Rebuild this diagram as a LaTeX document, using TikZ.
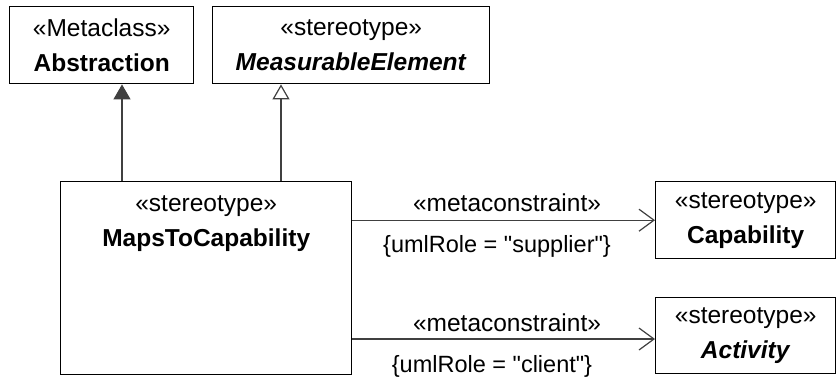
\documentclass[tikz,border=0pt]{standalone}
\usepackage{fontspec}
\setmainfont{Liberation Sans}
\usetikzlibrary{arrows.meta,positioning}

\tikzset{
  umlbox/.style={draw=black, line width=1.4pt, fill=white, inner sep=0pt, align=center,
    anchor=north west, font=\fontsize{24.5}{35}\selectfont},
  boxtext/.style={inner sep=0pt, align=center, font=\fontsize{24.5}{35}\selectfont},
  conn/.style={draw=black!75, line width=1.2pt},
  genfilled/.style={conn, -{Triangle[length=15pt,width=17pt]}},
  genopen/.style={conn, -{Triangle[open,length=15pt,width=17pt,fill=white]}},
  assoc/.style={conn, -{Straight Barb[length=15pt,width=22pt,line width=1.2pt]}},
  connlabel/.style={inner sep=0pt, font=\fontsize{24.5}{28}\selectfont},
  rolelabel/.style={inner sep=0pt, font=\fontsize{23.5}{28}\selectfont}
}

\begin{document}
\begin{tikzpicture}[x=1pt,y=-1pt]
  \useasboundingbox (0,0) rectangle (837,376);

  % classes
  \node[umlbox, minimum width=184pt, minimum height=77pt] (abs) at (9,6)
    {«Metaclass»\\\textbf{Abstraction}};
  \node[umlbox, minimum width=277pt, minimum height=77pt] (meas) at (212,6)
    {«stereotype»\\\textbf{\textit{MeasurableElement}}};
  \node[umlbox, minimum width=291pt, minimum height=193pt] (maps) at (60,181) {};
  \node[boxtext, below=14pt of maps.north] (mapsname)
    {«stereotype»\\\textbf{MapsToCapability}};
  \node[umlbox, minimum width=180pt, minimum height=77pt] (cap) at (655,181)
    {«stereotype»\\\textbf{Capability}};
  \node[umlbox, minimum width=180pt, minimum height=76pt] (act) at (655,297)
    {«stereotype»\\\textbf{\textit{Activity}}};

  % generalizations
  \coordinate (g1) at (122,0);
  \coordinate (g2) at (281,0);
  \draw[genfilled] (g1 |- maps.north) -- (g1 |- abs.south);
  \draw[genopen] (g2 |- maps.north) -- (g2 |- meas.south);

  % metaconstraints
  \coordinate (a2) at (0,339);
  \draw[assoc] (maps.east |- cap.west) -- (cap.west);
  \draw[assoc] (a2 -| maps.east) -- (a2 -| act.west);
  \node[connlabel] (mc1) at (507,203) {«metaconstraint»};
  \node[rolelabel] (role1) at (497,246) {\{umlRole = \textquotedbl supplier\textquotedbl\}};
  \node[connlabel] (mc2) at (507,323) {«metaconstraint»};
  \node[rolelabel] (role2) at (492,366) {\{umlRole = \textquotedbl client\textquotedbl\}};
\end{tikzpicture}
\end{document}
